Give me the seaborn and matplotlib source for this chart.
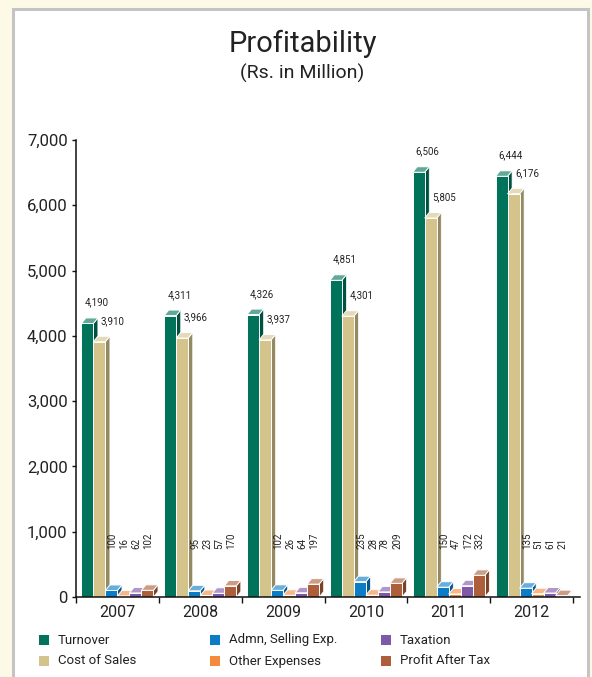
import matplotlib
matplotlib.use("Agg")
import matplotlib.pyplot as plt
import matplotlib.colors as mcolors
from matplotlib.patches import Polygon, Rectangle
import numpy as np
import pandas as pd
import seaborn as sns

# ---- data (Rs. in Million) ----
years = ["2007", "2008", "2009", "2010", "2011", "2012"]
series = ["Turnover", "Cost of Sales", "Admn, Selling Exp.",
          "Other Expenses", "Taxation", "Profit After Tax"]
turnover = [4190, 4311, 4326, 4851, 6506, 6444]
cost_of_sales = [3910, 3966, 3937, 4301, 5805, 6176]
admn_selling = [100, 95, 102, 235, 150, 135]
other_expenses = [16, 23, 26, 28, 47, 51]
taxation = [62, 57, 64, 78, 172, 61]
profit_after_tax = [102, 170, 197, 209, 332, 21]
y_ticks = [0, 1000, 2000, 3000, 4000, 5000, 6000, 7000]

colors = ["#00735a", "#d4c48c", "#0b7dc6", "#f58a3c", "#7f58a8", "#ad5f3b"]

values = [turnover, cost_of_sales, admn_selling, other_expenses,
          taxation, profit_after_tax]
df = pd.DataFrame({
    "year": np.repeat([years], len(series), axis=0).ravel(),
    "series": np.repeat(series, len(years)),
    "value": np.concatenate(values),
})

sns.set_theme(style="white")
FONT = ["Roboto", "DejaVu Sans"]
plt.rcParams["font.family"] = FONT
TEXT = "#222222"

W, H = 592, 677
fig = plt.figure(figsize=(W / 100, H / 100), dpi=100, facecolor="#fdf9e7")

# white panel with grey frame
fig.patches.append(Rectangle((13 / W, -0.02), (588 - 13) / W, (677 - 9) / H + 0.02,
                             transform=fig.transFigure, facecolor="white",
                             edgecolor="#c4c4c4", lw=2.2, zorder=-10))

ax_l, ax_r, ax_b, ax_t = 76, 580, 597, 140
ax = fig.add_axes([ax_l / W, (H - ax_b) / H, (ax_r - ax_l) / W, (ax_b - ax_t) / H])
ax.set_zorder(5)
ax.set_facecolor("none")

sns.barplot(data=df, x="year", y="value", hue="series", hue_order=series,
            palette=colors, width=0.87, dodge=True, edgecolor="white",
            linewidth=0.7, legend=False, saturation=1, ax=ax, zorder=3)

x_hi = 5.5 + 7 / 83
ax.set_xlim(-0.5, x_hi)
ax.set_ylim(0, 7000)

# pixel -> data scale for the 3-D depth of each bar
px_x = (x_hi + 0.5) / (ax_r - ax_l)
px_y = 7000 / (ax_b - ax_t)
dx, dy = 4.5 * px_x, 5.5 * px_y


def mix(c, other, t):
    a = np.array(mcolors.to_rgb(c))
    b = np.array(mcolors.to_rgb(other))
    return tuple(a * (1 - t) + b * t)


n_years = len(years)
for i, p in enumerate(list(ax.patches)):
    s = i // n_years
    base = colors[s]
    x0 = p.get_x()
    w = p.get_width()
    h = p.get_height()
    x1 = x0 + w
    z = 3 + (x0 + 1) * 10
    p.set_zorder(z)
    top = Polygon([(x0, h), (x1, h), (x1 + dx, h + dy), (x0 + dx, h + dy)],
                  closed=True, facecolor=mix(base, "white", 0.38),
                  edgecolor="white", lw=0.7, zorder=z)
    side = Polygon([(x1, 0), (x1 + dx, dy), (x1 + dx, h + dy), (x1, h)],
                   closed=True, facecolor=mix(base, "black", 0.3),
                   edgecolor="white", lw=0.5, zorder=z - 0.01)
    ax.add_patch(side)
    ax.add_patch(top)

    cx = x0 + w / 2
    label = f"{int(h):,}"
    if s < 2:
        off = 6.5 if s == 0 else 9.7
        ax.annotate(label, xy=(cx, h), xytext=(off, 15), textcoords="offset points",
                    ha="center", va="center", fontsize=7, color=TEXT, zorder=200)
    else:
        ax.annotate(label, xy=(cx, 0), xytext=(0.8, 34.5), textcoords="offset points",
                    ha="center", va="bottom", rotation=90, fontsize=7,
                    color=TEXT, zorder=200)

# axes styling
for side_name in ["top", "right"]:
    ax.spines[side_name].set_visible(False)
for side_name in ["left", "bottom"]:
    ax.spines[side_name].set_color("#111111")
    ax.spines[side_name].set_linewidth(1.1)
    ax.spines[side_name].set_zorder(500)

ax.set_yticks(y_ticks)
ax.set_yticklabels([f"{t:,}" for t in y_ticks])
ax.tick_params(axis="y", direction="out", length=3, width=1, color="#111111",
               pad=3, labelsize=12, labelcolor=TEXT, left=True)

ax.set_xticks(np.arange(-0.5, 5.6, 1.0))
ax.set_xticklabels([])
ax.set_xticks(np.arange(len(years)), minor=True)
ax.set_xticklabels(years, minor=True)
ax.tick_params(axis="x", which="major", direction="out", length=4, width=1,
               color="#111111", bottom=True)
ax.tick_params(axis="x", which="minor", length=0, pad=5.5, labelsize=11.5,
               labelcolor=TEXT)
ax.set_xlabel("")
ax.set_ylabel("")
ax.grid(False)

# title
fig.text(303 / W, 1 - 44 / H, "Profitability", ha="center", va="center",
         fontsize=21, color=TEXT)
fig.text(302 / W, 1 - 73 / H, "(Rs. in Million)", ha="center", va="center",
         fontsize=14, color=TEXT)

# legend
col_x = [39, 210, 381]
row_y = [640, 661]
for i, (name, c) in enumerate(zip(series, colors)):
    cxp = col_x[i // 2]
    cyp = row_y[i % 2]
    fig.patches.append(Rectangle((cxp / W, 1 - (cyp + 5) / H), 10 / W, 10 / H,
                                 transform=fig.transFigure, facecolor=c,
                                 edgecolor="none", zorder=5))
    fig.text((cxp + 19) / W, 1 - cyp / H, name, ha="left", va="center",
             fontsize=9.5, color=TEXT)

fig.savefig("out.png", dpi=100, facecolor=fig.get_facecolor())
